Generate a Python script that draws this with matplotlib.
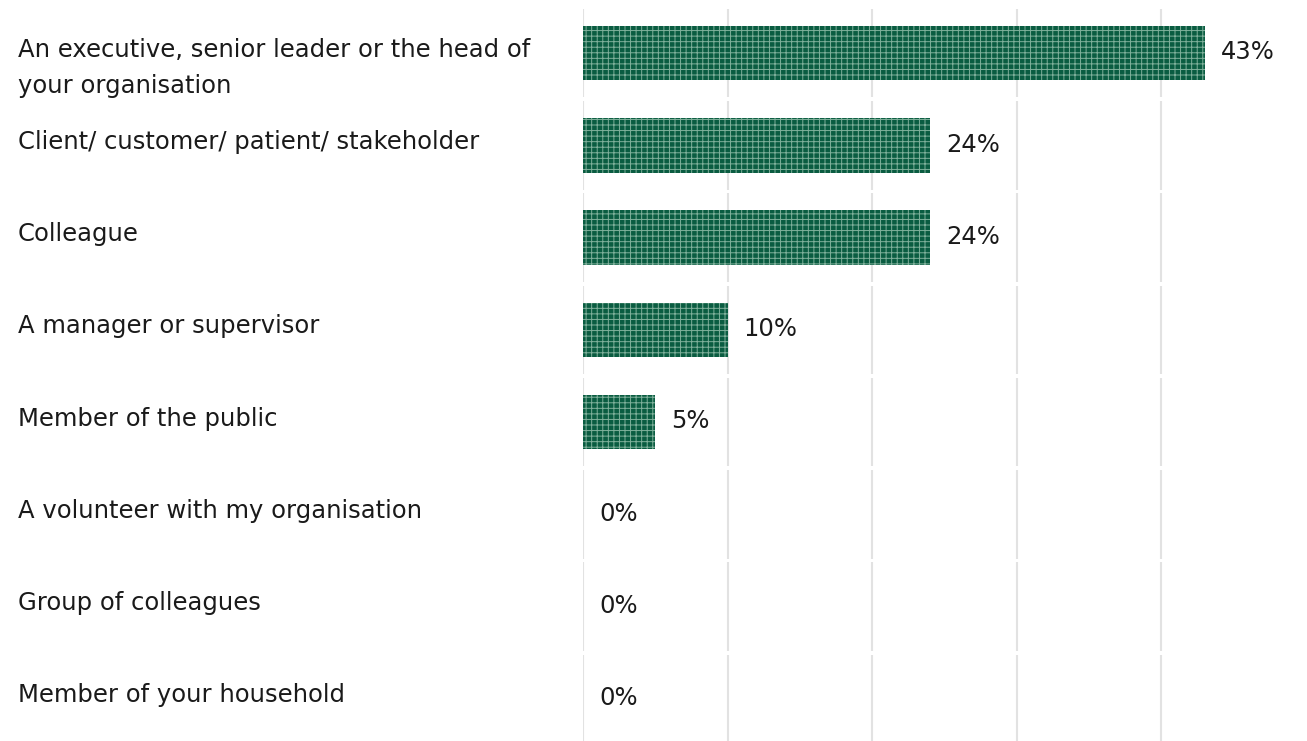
import matplotlib
matplotlib.use("Agg")
import matplotlib.pyplot as plt

categories = [
    "An executive, senior leader or the head of\nyour organisation",
    "Client/ customer/ patient/ stakeholder",
    "Colleague",
    "A manager or supervisor",
    "Member of the public",
    "A volunteer with my organisation",
    "Group of colleagues",
    "Member of your household",
]
values = [43, 24, 24, 10, 5, 0, 0, 0]
grid_ticks = [0, 10, 20, 30, 40]

plt.rcParams["font.family"] = ["DejaVu Sans"]
plt.rcParams["hatch.color"] = "#7fb09b"
plt.rcParams["hatch.linewidth"] = 0.7

W, H = 1307, 741
fig = plt.figure(figsize=(W / 100, H / 100), dpi=100)
left, right, top, bottom = 583, 1290, 7, 745
ax = fig.add_axes([left / W, 1 - bottom / H, (right - left) / W, (bottom - top) / H])

n = len(categories)
ax.set_xlim(0, 48.9)
ax.set_ylim(n - 0.5, -0.5)

# vertical grid lines, broken slightly between rows
gap = 0.02
for x in grid_ticks:
    for i in range(n):
        ax.plot([x, x], [i - 0.5 + gap, i + 0.5 - gap], color="#e2e2e2", lw=1.5,
                zorder=0, solid_capstyle="butt")

ax.barh(range(n), values, height=0.59, color="#0a5c41", hatch="+++",
        edgecolor="#7fb09b", linewidth=0, zorder=2)

fs = 17.5
line_step = 26  # points between wrapped label lines
for i, v in enumerate(values):
    ax.annotate(f"{v}%", xy=(v, i), xytext=(11.5, -4.5), textcoords="offset points",
                va="baseline", ha="left", fontsize=fs, color="#1a1a1a")
    for k, line in enumerate(categories[i].split("\n")):
        ax.annotate(line, xy=(0, i), xycoords=("figure fraction", "data"),
                    xytext=(18 / 100 * 72, -2.5 - k * line_step),
                    textcoords="offset points",
                    va="baseline", ha="left", fontsize=fs, color="#1a1a1a")

ax.axis("off")
fig.savefig("out.png", dpi=100)
